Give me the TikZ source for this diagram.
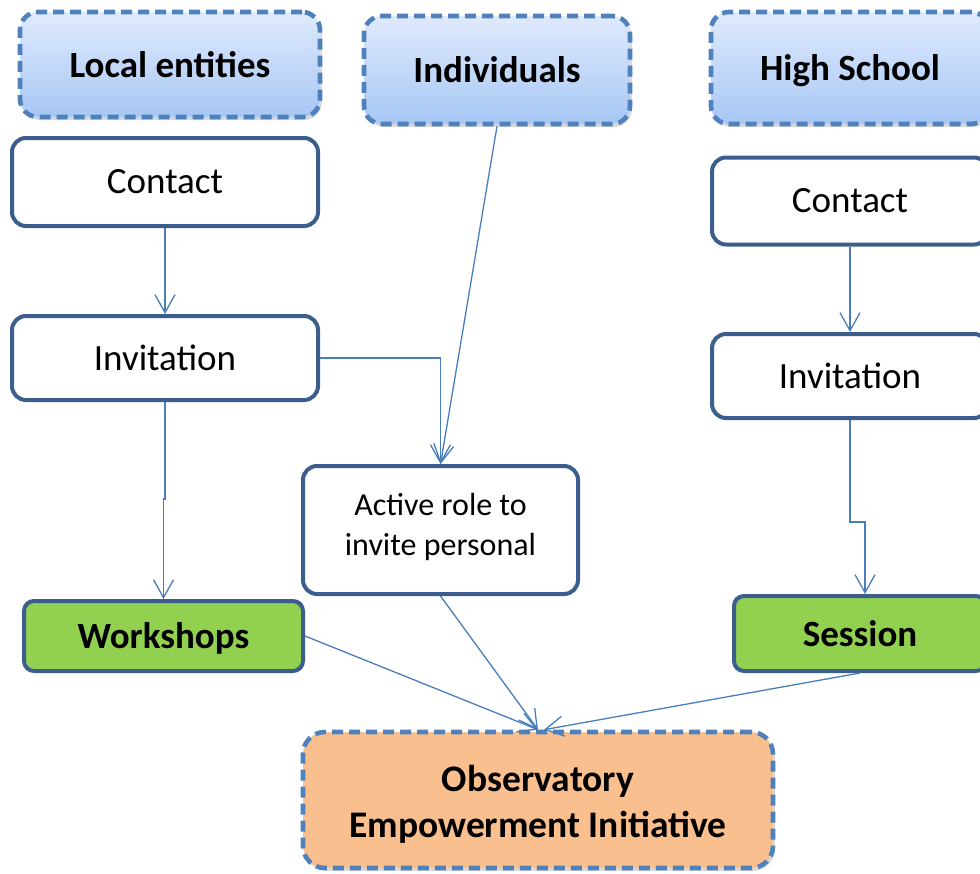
\documentclass[tikz,border=0pt]{standalone}
\usepackage{fontspec}
\setmainfont{Carlito}
\usetikzlibrary{arrows.meta,shadows}

\definecolor{linkblue}{HTML}{4A7EBB}
\definecolor{boxedge}{HTML}{3B5E8C}
\definecolor{dashblue}{HTML}{4F81BD}
\definecolor{topblue}{HTML}{DFEAFC}
\definecolor{botblue}{HTML}{A8C7F5}
\definecolor{leafgreen}{HTML}{92D050}
\definecolor{peach}{HTML}{F9BF8F}

\tikzset{
  x=1pt, y=-1pt,
  base/.style={inner sep=0pt, align=center, text=black},
  group/.style={base, draw=dashblue, line width=4.6pt, dash pattern=on 11pt off 6pt,
    rounded corners=18pt, top color=topblue, bottom color=botblue,
    font=\bfseries\fontsize{37}{43}\selectfont,
    drop shadow={opacity=0.3, shadow xshift=2pt, shadow yshift=-3pt}},
  stepbox/.style={base, draw=boxedge, line width=4pt, rounded corners=14pt,
    fill=white, font=\fontsize{37}{43}\selectfont},
  outcome/.style={base, draw=boxedge, line width=4pt, rounded corners=10pt,
    fill=leafgreen, font=\bfseries\fontsize{37}{43}\selectfont},
  goal/.style={base, draw=dashblue, line width=4.6pt, dash pattern=on 11pt off 6pt,
    rounded corners=22pt, fill=peach, font=\bfseries\fontsize{37.5}{46}\selectfont,
    drop shadow={opacity=0.3, shadow xshift=2pt, shadow yshift=-3pt}},
  link/.style={draw=linkblue, line width=1.3pt,
    -{Straight Barb[length=18pt,width=20pt,line width=1.3pt]}},
}

\begin{document}
\begin{tikzpicture}
\useasboundingbox (0,0) rectangle (980,873);

% sources
\node[group, minimum width=300pt, minimum height=105pt, text depth=-4pt] (le)  at (170,64.5) {Local entities};
\node[group, minimum width=266pt, minimum height=108pt, text depth=-2pt] (ind) at (497,70)   {Individuals};
\node[group, minimum width=278pt, minimum height=112pt, text depth=-4pt] (hs)  at (850,68)   {High School};

% left chain
\node[stepbox, minimum width=306pt, minimum height=88pt] (c1) at (165,182) {Contact};
\node[stepbox, minimum width=306pt, minimum height=84pt] (i1) at (165,358) {Invitation};
\node[outcome, minimum width=279pt, minimum height=70pt, text depth=-10pt] (ws) at (163.5,636) {Workshops};

% middle
\node[stepbox, minimum width=275pt, minimum height=128pt] (ar) at (440.5,530) {};
\node[base, font=\fontsize{32}{40}\selectfont, anchor=north] (art) at (440.5,493)
  {Active role to\\invite personal};

% right chain
\node[stepbox, minimum width=276pt, minimum height=87pt] (c2) at (850,201) {Contact};
\node[stepbox, minimum width=276pt, minimum height=84pt] (i2) at (850,376) {Invitation};
\node[outcome, minimum width=252pt, minimum height=75pt] (ses) at (860,633.5) {Session};

% goal
\node[goal, minimum width=470pt, minimum height=136pt] (obs) at (538,800) {};
\node[base, font=\bfseries\fontsize{37.5}{46}\selectfont] (obst) at (538,804)
  {Observatory\\Empowerment Initiative};

% connectors
\draw[link] (c1) -- (i1);
\draw[link] (i1.south) -- ++(0,97) -| (ws.north);
\draw[link] (i1.east) -| (ar.north);
\draw[link] (ind.south) -- (ar.north);
\draw[link] (c2) -- (i2);
\draw[link] (i2.south) -- ++(0,102) -| ([xshift=5pt]ses.north);
\draw[link] (ws.east) -- (obs.north);
\draw[link] (ar.south) -- (obs.north);
\draw[link] (ses.south) -- ([xshift=6pt]obs.north);
\end{tikzpicture}
\end{document}
